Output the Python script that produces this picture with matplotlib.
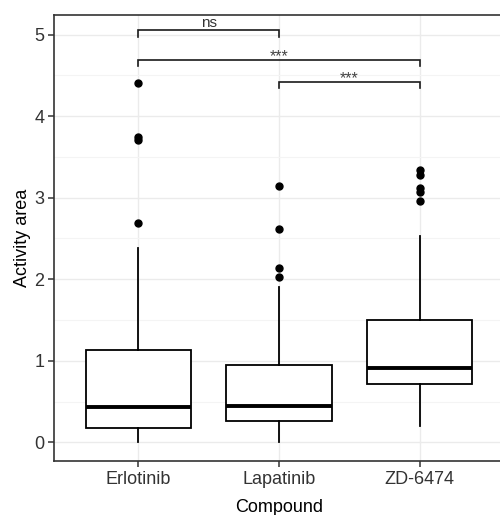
import matplotlib
matplotlib.use("Agg")
import matplotlib.pyplot as plt
from matplotlib.ticker import MultipleLocator

plt.rcParams['font.family'] = ['Liberation Sans', 'DejaVu Sans']

# data (box stats per compound)
compounds = ['Erlotinib', 'Lapatinib', 'ZD-6474']
q1 = [0.18, 0.265, 0.71]
medians = [0.43, 0.44, 0.91]
q3 = [1.13, 0.95, 1.50]
whisker_low = [0.0, 0.0, 0.196]
whisker_high = [2.38, 1.91, 2.53]
outliers = [
    [4.41, 3.74, 3.71, 2.69],
    [3.14, 2.61, 2.14, 2.03],
    [3.34, 3.28, 3.12, 3.07, 2.96],
]

# significance brackets: (from, to, height, label)
brackets = [
    (1, 2, 5.05, 'ns'),
    (1, 3, 4.69, '***'),
    (2, 3, 4.42, '***'),
]

fig = plt.figure(figsize=(5.0, 5.15), dpi=100)
ax = fig.add_axes([0.108, 0.1049, 0.9, 0.866])

stats = []
for i, name in enumerate(compounds):
    stats.append({
        'label': name,
        'q1': q1[i], 'med': medians[i], 'q3': q3[i],
        'whislo': whisker_low[i], 'whishi': whisker_high[i],
        'fliers': outliers[i],
    })

ax.bxp(stats, positions=[1, 2, 3], widths=0.75, showcaps=False, patch_artist=True,
       boxprops=dict(facecolor='white', edgecolor='black', linewidth=1.3),
       medianprops=dict(color='black', linewidth=2.8),
       whiskerprops=dict(color='black', linewidth=1.3),
       flierprops=dict(marker='o', markerfacecolor='black', markeredgecolor='black',
                       markersize=5, linestyle='none'),
       zorder=3)

# brackets
for x1, x2, h, lab in brackets:
    ax.plot([x1, x1, x2, x2], [h - 0.075, h, h, h - 0.075], color='#1a1a1a',
            linewidth=1.2, zorder=4, solid_joinstyle='miter')
    if lab == 'ns':
        ax.text((x1 + x2) / 2, h + 0.01, lab, ha='center', va='bottom',
                fontsize=11, color='#333333')
    else:
        ax.text((x1 + x2) / 2, h - 0.01, lab, ha='center', va='baseline',
                fontsize=11.5, color='#444444')

ax.set_xlim(0.4, 3.6)
ax.set_ylim(-0.229, 5.24)
ax.yaxis.set_major_locator(MultipleLocator(1))
ax.yaxis.set_minor_locator(MultipleLocator(0.5))
ax.set_xticks([1, 2, 3])
ax.set_xticklabels(compounds)

ax.grid(which='major', color='#EBEBEB', linewidth=1.0, zorder=0)
ax.grid(which='minor', axis='y', color='#F4F4F4', linewidth=0.8, zorder=0)
ax.set_axisbelow(True)

for sp in ax.spines.values():
    sp.set_color('#333333')
    sp.set_linewidth(1.2)
ax.spines['right'].set_visible(False)

ax.tick_params(axis='both', which='major', length=4, width=1.1, color='#333333',
               labelsize=13, labelcolor='#333333', pad=3)
ax.tick_params(axis='y', which='minor', length=0)

ax.set_xlabel('Compound', fontsize=13, labelpad=8)
ax.set_ylabel('Activity area', fontsize=13, labelpad=2)

fig.savefig('out.png', dpi=100)
